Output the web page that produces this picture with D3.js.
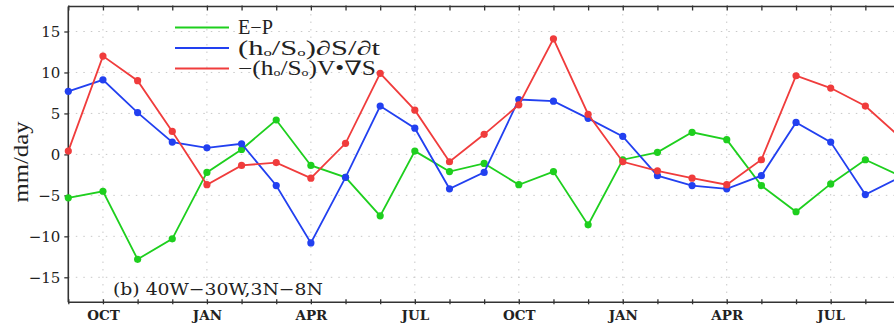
<!DOCTYPE html>
<html>
<head>
<meta charset="utf-8">
<script src="https://cdn.jsdelivr.net/npm/d3@7/dist/d3.min.js"></script>
<style>
  html, body { margin: 0; padding: 0; background: #fff; }
  svg { display: block; }
</style>
</head>
<body>
<svg id="chart" width="894" height="327"></svg>
<script>
// ---- data ----
const months = ["SEP","OCT","NOV","DEC","JAN","FEB","MAR","APR","MAY","JUN","JUL","AUG",
                "SEP","OCT","NOV","DEC","JAN","FEB","MAR","APR","MAY","JUN","JUL","AUG","SEP"];
const tickLabels = ["OCT","JAN","APR","JUL","OCT","JAN","APR","JUL"];
const tickIndices = [1,4,7,10,13,16,19,22];
const yTicks = [-15,-10,-5,0,5,10,15];

const evapMinusPrecip = [-5.3,-4.5,-12.8,-10.3,-2.2,0.6,4.2,-1.35,-2.8,-7.5,0.4,-2.1,
                         -1.1,-3.7,-2.1,-8.6,-0.65,0.25,2.7,1.8,-3.8,-7.0,-3.6,-0.65,-2.6];
const tendency = [7.7,9.1,5.1,1.5,0.8,1.3,-3.8,-10.8,-2.8,5.9,3.2,-4.2,
                  -2.2,6.7,6.5,4.4,2.2,-2.6,-3.8,-4.2,-2.6,3.9,1.5,-4.9,-2.8];
const advection = [0.4,12.0,9.0,2.8,-3.7,-1.35,-1.0,-2.9,1.35,9.9,5.4,-0.9,
                   2.45,6.05,14.1,4.9,-0.9,-2.0,-2.9,-3.7,-0.65,9.6,8.1,5.9,2.1];

const seriesNames = ["E-P","tendency","advection"];
const seriesColors = ["#1ecf1e","#2240f0","#f03c3c"];
const seriesData = [evapMinusPrecip, tendency, advection];

(function () {
// ---- layout ----
const svg = d3.select("#chart");
const pLeft = 68.3, pTop = 6.5, pBottom = 302.3, pRight = 900;
const x = d3.scaleLinear().domain([0, 24]).range([pLeft, pRight]);
const y = d3.scaleLinear().domain([-18.05, 18.05]).range([pBottom, pTop]);

const serif = "'Liberation Serif', 'DejaVu Serif', serif";
const wserif = "'DejaVu Serif', 'Liberation Serif', serif";

// grid
const grid = svg.append("g").attr("stroke", "#c8c8c8").attr("stroke-width", 1)
  .attr("stroke-dasharray", "1.5,6");
grid.selectAll("line.h").data(yTicks).join("line").attr("class", "h")
  .attr("x1", pLeft).attr("x2", pRight)
  .attr("y1", d => y(d)).attr("y2", d => y(d));
grid.selectAll("line.v").data(tickIndices).join("line").attr("class", "v")
  .attr("y1", pTop).attr("y2", pBottom)
  .attr("x1", d => x(d)).attr("x2", d => x(d));

// axes
const axisColor = "#333";
const yAxis = d3.axisLeft(y).tickValues(yTicks).tickSize(4).tickPadding(4)
  .tickFormat(d => d < 0 ? "\u2212" + Math.abs(d) : d);
const gy = svg.append("g").attr("transform", `translate(${pLeft},0)`).call(yAxis);
gy.select(".domain").remove();
gy.selectAll(".tick line").attr("stroke", axisColor).attr("stroke-width", 1.3);
gy.selectAll(".tick text").attr("font-family", wserif).attr("font-size", 15).attr("fill", "#222");

const monthIdx = d3.range(months.length);
const xBottom = d3.axisBottom(x).tickValues(monthIdx).tickSize(-3).tickSizeOuter(0)
  .tickFormat(d => { const k = tickIndices.indexOf(d); return k >= 0 ? tickLabels[k] : ""; });
const gxb = svg.append("g").attr("transform", `translate(0,${pBottom})`).call(xBottom);
gxb.select(".domain").remove();
gxb.selectAll(".tick line").attr("stroke", axisColor).attr("stroke-width", 1.3).attr("y1", 2);
gxb.selectAll(".tick text").attr("font-family", wserif).attr("font-size", 13.5)
  .attr("font-weight", "bold").attr("fill", "#222").attr("dy", 0)
  .attr("y", 18);

const xTop = d3.axisTop(x).tickValues(monthIdx).tickSize(-4).tickSizeOuter(0).tickFormat("");
const gxt = svg.append("g").attr("transform", `translate(0,${pTop})`).call(xTop);
gxt.select(".domain").remove();
gxt.selectAll(".tick line").attr("stroke", axisColor).attr("stroke-width", 1.3).attr("y1", -1);

// frame lines
svg.append("line").attr("x1", pLeft).attr("x2", pLeft).attr("y1", pTop).attr("y2", pBottom)
  .attr("stroke", axisColor).attr("stroke-width", 1.6);
svg.append("line").attr("x1", pLeft).attr("x2", pRight).attr("y1", pTop).attr("y2", pTop)
  .attr("stroke", axisColor).attr("stroke-width", 1.6);
svg.append("line").attr("x1", pLeft).attr("x2", pRight).attr("y1", pBottom).attr("y2", pBottom)
  .attr("stroke", axisColor).attr("stroke-width", 1.6);

// y label
svg.append("text")
  .attr("transform", `translate(28,162) rotate(-90)`)
  .attr("text-anchor", "middle")
  .attr("font-family", serif).attr("font-size", 21).attr("fill", "#222")
  .attr("textLength", 81).attr("lengthAdjust", "spacingAndGlyphs")
  .text("mm/day");

// series
const line = d3.line().x((d, i) => x(i)).y(d => y(d));
seriesData.forEach((vals, k) => {
  const g = svg.append("g");
  g.append("path").datum(vals).attr("d", line)
    .attr("fill", "none").attr("stroke", seriesColors[k]).attr("stroke-width", 1.8);
  g.selectAll("circle").data(vals).join("circle")
    .attr("cx", (d, i) => x(i)).attr("cy", d => y(d)).attr("r", 3.6)
    .attr("fill", seriesColors[k]);
});

// legend
const legendY = [27.5, 48, 68.5];
const lg = svg.append("g");
seriesColors.forEach((c, k) => {
  lg.append("line").attr("x1", 175).attr("x2", 229)
    .attr("y1", legendY[k]).attr("y2", legendY[k])
    .attr("stroke", c).attr("stroke-width", 1.8);
});
function legendText(yy, width, parts) {
  const t = lg.append("text").attr("x", 238).attr("y", yy + 6.5)
    .attr("font-family", serif).attr("font-size", 20).attr("fill", "#222")
    .attr("textLength", width).attr("lengthAdjust", "spacingAndGlyphs");
  parts.forEach(p => {
    const ts = t.append("tspan").text(p.t);
    if (p.sub) ts.attr("font-size", 11).attr("dy", 1);
    if (p.up) ts.attr("dy", -1);
  });
}
legendText(legendY[0], 35, [{t: "E\u2212P"}]);
legendText(legendY[1], 142, [{t: "(h"}, {t: "o", sub: true}, {t: "/S", up: true}, {t: "o", sub: true},
                            {t: ")\u2202S/\u2202t", up: true}]);
legendText(legendY[2], 138, [{t: "\u2212(h"}, {t: "o", sub: true}, {t: "/S", up: true}, {t: "o", sub: true},
                            {t: ")V\u2022\u2207S", up: true}]);

// region label
svg.append("text").attr("x", 113).attr("y", 295)
  .attr("font-family", wserif).attr("font-size", 16.5).attr("fill", "#222")
  .attr("textLength", 210).attr("lengthAdjust", "spacingAndGlyphs")
  .text("(b) 40W\u221230W,3N\u22128N");
})();
</script>
</body>
</html>
